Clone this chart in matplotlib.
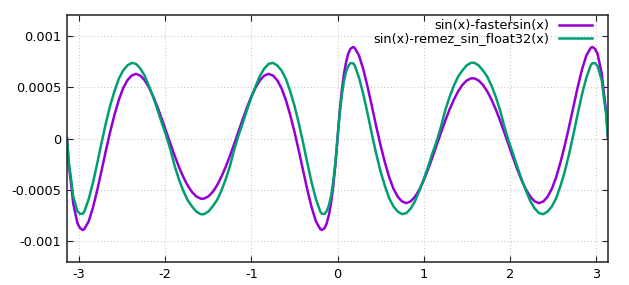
import matplotlib
matplotlib.use("Agg")
import matplotlib.pyplot as plt

# error curves, y values in units of 1e-4
SCALE = 1e-4

x_vals = [
    -3.1416, -3.12, -3.09, -3.07, -3.04, -3.02, -2.99, -2.96, -2.94, -2.89,
    -2.84, -2.79, -2.74, -2.69, -2.64, -2.59, -2.54, -2.49, -2.44, -2.39,
    -2.34, -2.29, -2.24, -2.19, -2.14, -2.09, -2.04, -1.99, -1.94, -1.89,
    -1.84, -1.79, -1.74, -1.69, -1.64, -1.59, -1.5708, -1.55, -1.50, -1.45,
    -1.40, -1.35, -1.30, -1.25, -1.20, -1.15, -1.10, -1.05, -1.00, -0.95,
    -0.90, -0.85, -0.80, -0.75, -0.70, -0.65, -0.60, -0.55, -0.50, -0.45,
    -0.40, -0.35, -0.30, -0.25, -0.20, -0.18, -0.15, -0.125, -0.10, -0.075,
    -0.05, -0.025,
    0.00, 0.025, 0.05, 0.075, 0.10, 0.125, 0.15, 0.18, 0.20, 0.25,
    0.30, 0.35, 0.40, 0.45, 0.50, 0.55, 0.60, 0.65, 0.70, 0.75,
    0.80, 0.85, 0.90, 0.95, 1.00, 1.05, 1.10, 1.15, 1.20, 1.25,
    1.30, 1.35, 1.40, 1.45, 1.50, 1.55, 1.5708, 1.59, 1.64, 1.69,
    1.74, 1.79, 1.84, 1.89, 1.94, 1.99, 2.04, 2.09, 2.14, 2.19,
    2.24, 2.29, 2.34, 2.39, 2.44, 2.49, 2.54, 2.59, 2.64, 2.69,
    2.74, 2.79, 2.84, 2.89, 2.94, 2.96, 2.99, 3.02, 3.04, 3.07,
    3.09, 3.12, 3.1416,
]

fastersin_err = [
    0.00, -2.60, -4.67, -6.28, -7.44, -8.24, -8.71, -8.89, -8.80, -8.06,
    -6.71, -5.00, -3.11, -1.17, 0.66, 2.31, 3.75, 4.88, 5.66, 6.12,
    6.28, 6.11, 5.66, 4.97, 4.09, 3.04, 1.89, 0.68, -0.53, -1.70,
    -2.79, -3.75, -4.57, -5.20, -5.63, -5.84, -5.85, -5.84, -5.63, -5.20,
    -4.57, -3.75, -2.79, -1.70, -0.53, 0.68, 1.89, 3.04, 4.09, 4.97,
    5.66, 6.11, 6.28, 6.12, 5.66, 4.88, 3.75, 2.31, 0.66, -1.17,
    -3.11, -5.00, -6.71, -8.06, -8.80, -8.89, -8.71, -8.24, -7.44, -6.28,
    -4.67, -2.60,
    0.00, 2.60, 4.67, 6.28, 7.44, 8.24, 8.71, 8.89, 8.80, 8.06,
    6.71, 5.00, 3.11, 1.17, -0.66, -2.31, -3.75, -4.88, -5.66, -6.12,
    -6.28, -6.11, -5.66, -4.97, -4.09, -3.04, -1.89, -0.68, 0.53, 1.70,
    2.79, 3.75, 4.57, 5.20, 5.63, 5.84, 5.85, 5.84, 5.63, 5.20,
    4.57, 3.75, 2.79, 1.70, 0.53, -0.68, -1.89, -3.04, -4.09, -4.97,
    -5.66, -6.11, -6.28, -6.12, -5.66, -4.88, -3.75, -2.31, -0.66, 1.17,
    3.11, 5.00, 6.71, 8.06, 8.80, 8.89, 8.71, 8.24, 7.44, 6.28,
    4.67, 2.60, 0.00,
]

remez_err = [
    0.00, -2.35, -4.2, -5.6, -6.5, -7.05, -7.32, -7.32, -7.1, -5.9,
    -4.3, -2.4, -0.4, 1.5, 3.2, 4.6, 5.8, 6.6, 7.1, 7.35,
    7.25, 6.8, 6.1, 5.1, 4.0, 2.8, 1.5, 0.3, -1.1, -2.7,
    -4.0, -5.1, -6.0, -6.6, -7.1, -7.35, -7.36, -7.35, -7.1, -6.6,
    -6.0, -5.1, -4.0, -2.7, -1.1, 0.3, 1.5, 2.8, 4.0, 5.1,
    6.1, 6.8, 7.25, 7.35, 7.1, 6.6, 5.8, 4.6, 3.2, 1.5,
    -0.4, -2.4, -4.3, -5.9, -7.1, -7.32, -7.32, -7.05, -6.5, -5.6,
    -4.2, -2.35,
    0.00, 2.35, 4.2, 5.6, 6.5, 7.05, 7.32, 7.32, 7.1, 5.9,
    4.3, 2.4, 0.4, -1.5, -3.2, -4.6, -5.8, -6.6, -7.1, -7.35,
    -7.25, -6.8, -6.1, -5.1, -4.0, -2.8, -1.5, -0.3, 1.1, 2.7,
    4.0, 5.1, 6.0, 6.6, 7.1, 7.35, 7.36, 7.35, 7.1, 6.6,
    6.0, 5.1, 4.0, 2.7, 1.1, -0.3, -1.5, -2.8, -4.0, -5.1,
    -6.1, -6.8, -7.25, -7.35, -7.1, -6.6, -5.8, -4.6, -3.2, -1.5,
    0.4, 2.4, 4.3, 5.9, 7.1, 7.32, 7.32, 7.05, 6.5, 5.6,
    4.2, 2.35, 0.00,
]

labels = ["sin(x)-fastersin(x)", "sin(x)-remez_sin_float32(x)"]
colors = ["#9400d3", "#009e73"]

x_ticks = [-3, -2, -1, 0, 1, 2, 3]
y_ticks = [-0.001, -0.0005, 0, 0.0005, 0.001]
y_tick_labels = ["-0.001", "-0.0005", "0", "0.0005", "0.001"]

plt.rcParams["font.family"] = ["DejaVu Sans"]
plt.rcParams["axes.unicode_minus"] = False

fig = plt.figure(figsize=(6.29, 2.85), dpi=100)
ax = fig.add_axes([67 / 629, 1 - 262 / 285, (608 - 67) / 629, (262 - 15) / 285])

for series, lab, col in zip([fastersin_err, remez_err], labels, colors):
    ax.plot(x_vals, [v * SCALE for v in series], color=col, lw=1.8,
            label=lab, solid_joinstyle="round")

ax.set_xlim(-3.1416, 3.1416)
ax.set_ylim(-0.0012, 0.0012)
ax.set_xticks(x_ticks)
ax.set_xticklabels([str(t) for t in x_ticks])
ax.set_yticks(y_ticks)
ax.set_yticklabels(y_tick_labels)

ax.grid(True, color="#cccccc", lw=0.8, linestyle=(0, (1, 2)))
ax.tick_params(direction="in", length=4.5, width=0.8, color="#222222",
               top=True, right=True, labelsize=9.3, pad=4)
for sp in ax.spines.values():
    sp.set_linewidth(1.1)
    sp.set_color("#222222")

ax.legend(loc="upper right", bbox_to_anchor=(0.985, 1.015), frameon=False,
          markerfirst=False, handlelength=2.6, handletextpad=0.75,
          labelspacing=0.0, fontsize=9.3, borderaxespad=0.2)

fig.savefig("out.png", dpi=100)
